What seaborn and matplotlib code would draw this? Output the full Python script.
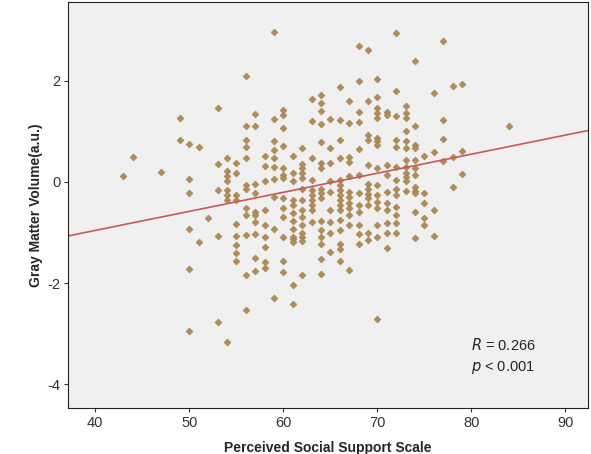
import pandas as pd
import seaborn as sns
import matplotlib.pyplot as plt

# Perceived Social Support Scale score (x) and gray matter volume (y), read column by column
pss = [
    43,
    44,
    47,
    49, 49,
    50, 50, 50, 50, 50, 50,
    51, 51,
    52,
    53, 53, 53, 53, 53,
    54, 54, 54, 54, 54, 54, 54, 54,
    55, 55, 55, 55, 55, 55, 55, 55, 55,
    56, 56, 56, 56, 56, 56, 56, 56, 56, 56, 56, 56,
    57, 57, 57, 57, 57, 57, 57, 57, 57, 57,
    58, 58, 58, 58, 58, 58, 58, 58, 58,
    59, 59, 59, 59, 59, 59, 59, 59, 59, 59,
    60, 60, 60, 60, 60, 60, 60, 60, 60, 60, 60, 60, 60,
    61, 61, 61, 61, 61, 61, 61, 61, 61, 61, 61, 61, 61,
    62, 62, 62, 62, 62, 62, 62, 62, 62, 62, 62, 62, 62, 62,
    63, 63, 63, 63, 63, 63, 63, 63, 63, 63,
    64, 64, 64, 64, 64, 64, 64, 64, 64, 64, 64, 64, 64, 64, 64, 64,
    65, 65, 65, 65, 65, 65, 65, 65, 65,
    66, 66, 66, 66, 66, 66, 66, 66, 66, 66, 66, 66, 66, 66, 66, 66,
    67, 67, 67, 67, 67, 67, 67, 67, 67, 67, 67, 67,
    68, 68, 68, 68, 68, 68, 68, 68, 68, 68, 68, 68,
    69, 69, 69, 69, 69, 69, 69, 69, 69, 69, 69, 69,
    70, 70, 70, 70, 70, 70, 70, 70, 70, 70, 70, 70, 70, 70, 70, 70,
    71, 71, 71, 71, 71, 71, 71, 71, 71, 71,
    72, 72, 72, 72, 72, 72, 72, 72, 72, 72, 72, 72, 72,
    73, 73, 73, 73, 73, 73, 73, 73, 73, 73, 73, 73,
    74, 74, 74, 74, 74, 74, 74, 74, 74, 74, 74, 74,
    75, 75, 75, 75, 75,
    76, 76, 76, 76,
    77, 77, 77, 77,
    78, 78, 78,
    79, 79, 79,
    84,
]

gmv = [
    0.12,
    0.49,
    0.20,
    1.26, 0.83,
    0.75, 0.06, -0.22, -0.93, -1.73, -2.95,
    0.70, -1.19,
    -0.71,
    1.46, 0.35, -0.16, -1.06, -2.77,
    0.47, 0.22, 0.12, 0.01, -0.16, -0.26, -0.36, -3.16,
    0.37, 0.17, -0.26, -0.36, -0.84, -1.06, -1.25, -1.41, -1.56,
    2.09, 1.11, 0.83, 0.70, 0.47, -0.06, -0.14, -0.52, -0.65, -1.04, -1.84, -2.53,
    1.34, 1.10, -0.03, -0.22, -0.59, -0.65, -0.79, -1.02, -1.51, -1.76,
    0.52, 0.32, 0.02, -0.55, -0.86, -1.08, -1.28, -1.59, -1.71,
    2.96, 1.24, 0.81, 0.63, 0.48, 0.30, 0.05, -0.29, -0.93, -2.30,
    1.43, 1.33, 1.06, 0.72, 0.28, 0.14, 0.07, -0.32, -0.51, -0.69, -1.08, -1.56, -1.79,
    0.52, 0.17, 0.01, -0.36, -0.46, -0.62, -0.77, -0.92, -1.08, -1.13, -1.19, -2.03, -2.42,
    0.67, 0.35, 0.27, 0.17, 0.07, -0.13, -0.35, -0.55, -0.70, -0.85, -1.00, -1.08, -1.17, -1.84,
    1.64, 1.21, 0.47, 0.04, -0.16, -0.26, -0.36, -0.46, -0.55, -0.80,
    1.72, 1.56, 1.41, 1.14, 0.80, 0.37, 0.27, -0.13, -0.22, -0.32, -0.78, -0.95, -1.08, -1.23, -1.52, -1.82,
    1.25, 0.67, 0.37, 0.01, -0.19, -0.55, -0.80, -1.00, -1.38,
    1.87, 1.23, 0.83, 0.47, 0.04, -0.06, -0.16, -0.26, -0.36, -0.46, -0.55, -0.75, -0.95, -1.23, -1.33, -1.56,
    1.60, 1.16, 0.50, 0.40, 0.11, -0.19, -0.29, -0.42, -0.52, -0.65, -0.85, -1.74,
    2.68, 2.00, 1.38, 1.18, 0.65, 0.14, -0.22, -0.45, -0.59, -0.85, -1.02, -1.23,
    2.61, 1.60, 0.93, 0.83, 0.34, -0.03, -0.13, -0.23, -0.32, -0.46, -1.00, -1.15,
    2.04, 1.69, 1.46, 1.36, 1.26, 0.88, 0.81, 0.73, 0.27, -0.06, -0.26, -0.39, -0.52, -0.85, -1.08, -2.71,
    1.39, 1.33, 0.34, 0.14, -0.19, -0.42, -0.55, -0.82, -1.00, -1.31,
    2.94, 1.79, 1.31, 0.83, 0.70, 0.30, 0.04, -0.13, -0.26, -0.49, -0.65, -0.82, -1.00,
    1.51, 1.36, 1.26, 1.00, 0.81, 0.67, 0.44, 0.30, 0.17, 0.09, 0.01, -0.18,
    2.40, 1.11, 0.73, 0.67, 0.44, 0.27, 0.14, -0.09, -0.18, -0.22, -0.59, -1.11,
    0.52, -0.22, -0.41, -0.71, -0.85,
    1.76, 0.60, -0.55, -1.06,
    2.79, 1.23, 0.86, 0.42,
    1.89, 0.50, -0.10,
    1.94, 0.61, 0.15,
    1.11,
]

x_ticks = [40, 50, 60, 70, 80, 90]
y_ticks = [-4, -2, 0, 2]

df = pd.DataFrame({"pss": pss, "gmv": gmv})

sns.set_style("ticks")
plt.rcParams["font.family"] = ["Liberation Sans", "DejaVu Sans"]
plt.rcParams["axes.unicode_minus"] = False

fig = plt.figure(figsize=(5.91, 4.54), dpi=100)
ax = fig.add_axes([68 / 591, 1 - 408 / 454, 520 / 591, 406 / 454])
ax.set_facecolor("#f0f0f0")

ax.set_xlim(37.1, 92.4)
ax.set_ylim(-4.47, 3.56)

sns.regplot(
    x="pss", y="gmv", data=df, ax=ax, ci=None, truncate=False,
    marker="D",
    scatter_kws={"s": 13, "color": "#b08d57", "edgecolors": "#9c7a48",
                 "linewidths": 0.3, "alpha": 1},
    line_kws={"color": "#c8595a", "lw": 1.2},
)

ax.set_xticks(x_ticks)
ax.set_yticks(y_ticks)
ax.tick_params(labelsize=10.5, colors="#333333", length=3, width=0.8, pad=2.5)
for s in ax.spines.values():
    s.set_color("#222222")
    s.set_linewidth(0.8)

ax.set_xlabel("Perceived Social Support Scale", fontsize=10, fontweight="bold", labelpad=8)
ax.set_ylabel("Gray Matter Volume(a.u.)", fontsize=10, fontweight="bold", labelpad=3)

ax.text(80, -3.23, r"$\it{R}$ = 0.266", fontsize=10.5, va="center")
ax.text(80, -3.66, r"$\it{p}$ < 0.001", fontsize=10.5, va="center")

fig.savefig("out.png", dpi=100)
